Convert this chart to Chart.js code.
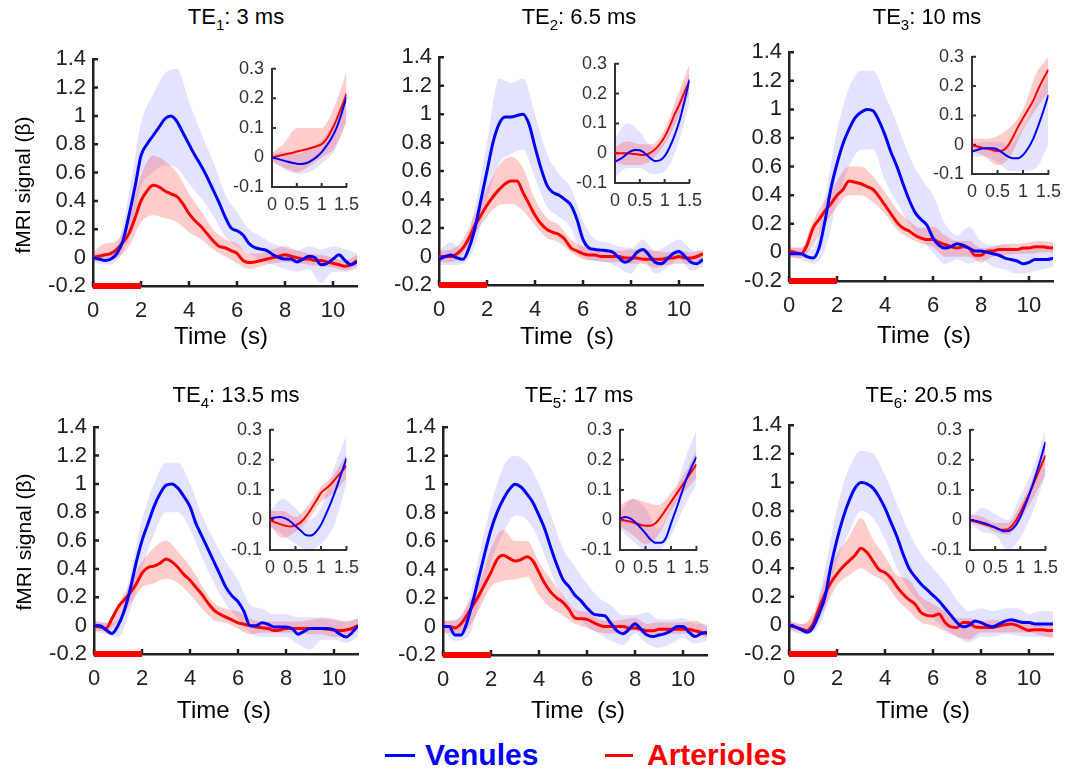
<!DOCTYPE html>
<html>
<head>
<meta charset="utf-8">
<script src="https://cdn.jsdelivr.net/npm/chart.js@4.4.1/dist/chart.umd.min.js"></script>
<style>
body { margin: 0; background: #fff; width: 1068px; height: 771px; position: relative; overflow: hidden; font-family: "Liberation Sans", Arial, sans-serif; }
canvas { position: absolute; }
.lbl { position: absolute; white-space: pre; color: #000; line-height: 1; }
</style>
</head>
<body>
<script>
// time bases
const tMain = [0,0.25,0.5,0.75,1,1.25,1.5,1.75,2,2.25,2.5,2.75,3,3.25,3.5,3.75,4,4.25,4.5,4.75,5,5.25,5.5,5.75,6,6.25,6.5,6.75,7,7.25,7.5,7.75,8,8.25,8.5,8.75,9,9.25,9.5,9.75,10,10.25,10.5,10.75,11];
const tBand = [0,0.5,1,1.5,2,2.5,3,3.5,4,4.5,5,5.5,6,6.5,7,7.5,8,8.5,9,9.5,10,10.5,11];
const tInset = [0,0.1,0.2,0.3,0.4,0.5,0.6,0.7,0.8,0.9,1,1.1,1.2,1.3,1.4,1.5];
const tInsetBand = [0,0.25,0.5,0.75,1,1.25,1.5];
const stimTimes = [0, 2];

// tick labels
const mainXTicks = [0,2,4,6,8,10];
const mainYTicks = [-0.2,0,0.2,0.4,0.6,0.8,1,1.2,1.4];
const insetXTicks = [0,0.5,1,1.5];
const insetYTicks = [-0.1,0,0.1,0.2,0.3];

// titles
const teIndex = ['1','2','3','4','5','6'];
const teValues = ['3 ms','6.5 ms','10 ms','13.5 ms','17 ms','20.5 ms'];
const seriesNames = ['Venules', 'Arterioles'];

// ---- TE1 ----
const ven1 = [0,-0.01,-0.02,-0.01, 0.03,0.12,0.3,0.5, 0.72,0.8,0.86,0.92, 0.98,1.0,0.96,0.88, 0.8,0.72,0.65,0.57, 0.48,0.39,0.29,0.21, 0.19,0.16,0.1,0.07, 0.06,0.05,0.02,0.0, -0.01,-0.01,-0.03,-0.01, 0.01,0.0,-0.05,-0.04, -0.01,0.02,-0.02,-0.05, -0.03];
const art1 = [0,0.01,0.02,0.03, 0.06,0.11,0.17,0.28, 0.4,0.47,0.51,0.5, 0.47,0.45,0.43,0.38, 0.31,0.26,0.22,0.17, 0.12,0.08,0.07,0.05, 0.03,-0.02,-0.035,-0.03, -0.02,-0.01,0.0,0.01, 0.02,0.01,0.0,-0.01, -0.01,-0.02,-0.02,-0.03, -0.04,-0.05,-0.06,-0.05, -0.02];
const ven1Lo = [-0.03,-0.05,-0.02,0.15,0.5,0.6,0.65,0.63,0.52,0.42,0.3,0.15,0.08,0.03,-0.02,-0.05,-0.08,-0.1,-0.08,-0.18,-0.1,-0.1,-0.08];
const ven1Hi = [0.03,0.02,0.08,0.45,0.95,1.15,1.3,1.33,1.1,0.88,0.68,0.45,0.32,0.2,0.15,0.1,0.07,0.05,0.08,0.06,0.08,0.06,0.03];
const art1Lo = [-0.03,-0.02,0.0,0.08,0.25,0.3,0.28,0.25,0.18,0.13,0.06,0.01,-0.04,-0.08,-0.06,-0.04,-0.03,-0.04,-0.05,-0.06,-0.07,-0.09,-0.06];
const art1Hi = [0.04,0.1,0.12,0.3,0.58,0.72,0.68,0.6,0.45,0.33,0.2,0.13,0.1,0.03,0.03,0.06,0.08,0.05,0.03,0.02,0.0,-0.02,0.02];
const venIn1 = [0,-0.004,-0.009,-0.014,-0.018,-0.021,-0.022,-0.019,-0.01,0.002,0.018,0.04,0.066,0.1,0.148,0.205];
const artIn1 = [0,0.004,0.008,0.012,0.015,0.02,0.024,0.028,0.033,0.038,0.045,0.063,0.092,0.128,0.17,0.215];
const venIn1Lo = [-0.01,-0.04,-0.055,-0.05,-0.02,0.02,0.12];
const venIn1Hi = [0.01,0.02,0.01,0.03,0.06,0.12,0.22];
const artIn1Lo = [-0.015,-0.035,-0.05,-0.03,0.0,0.03,0.12];
const artIn1Hi = [0.015,0.05,0.1,0.1,0.1,0.17,0.29];

// ---- TE2 ----
const ven2 = [-0.02,0.0,0.01,-0.01, -0.02,0.06,0.2,0.4, 0.6,0.8,0.93,0.98, 0.98,0.99,1.0,0.93, 0.77,0.62,0.5,0.45, 0.43,0.4,0.36,0.26, 0.12,0.06,0.05,0.045, 0.04,0.03,-0.01,-0.04, -0.02,0.03,0.05,0.01, -0.04,-0.05,-0.02,0.02, 0.035,0.0,-0.04,-0.05, -0.02];
const art2 = [0,0.0,0.0,0.02, 0.06,0.13,0.22,0.29, 0.36,0.42,0.47,0.51, 0.53,0.53,0.45,0.37, 0.29,0.23,0.19,0.17, 0.155,0.12,0.06,0.04, 0.02,0.01,0.01,0.0, 0.0,0.0,0.0,-0.01, -0.01,-0.01,-0.02,-0.02, -0.02,-0.02,-0.01,-0.01, 0.0,-0.01,-0.01,0.0, 0.02];
const ven2Lo = [-0.06,-0.06,-0.05,0.08,0.4,0.65,0.72,0.75,0.55,0.35,0.28,0.2,0.0,-0.03,-0.04,-0.08,-0.12,-0.02,-0.12,-0.08,-0.02,-0.1,-0.07];
const ven2Hi = [0.04,0.1,0.04,0.35,0.8,1.25,1.22,1.25,1.0,0.72,0.58,0.48,0.25,0.12,0.1,0.07,0.06,0.12,0.04,0.08,0.12,0.05,0.03];
const art2Lo = [-0.04,-0.04,0.02,0.16,0.28,0.36,0.37,0.32,0.22,0.13,0.1,0.03,-0.02,-0.03,-0.04,-0.04,-0.05,-0.05,-0.08,-0.06,-0.05,-0.05,-0.02];
const art2Hi = [0.04,0.05,0.12,0.3,0.48,0.64,0.7,0.62,0.4,0.27,0.22,0.12,0.07,0.05,0.04,0.04,0.05,0.05,0.04,0.03,0.04,0.03,0.05];
const venIn2 = [-0.028,-0.02,-0.008,0.005,0.011,0.01,0.0,-0.015,-0.026,-0.024,-0.01,0.02,0.06,0.11,0.175,0.247];
const artIn2 = [0,0,0,-0.001,-0.003,-0.005,-0.006,0.0,0.012,0.03,0.055,0.09,0.13,0.165,0.205,0.242];
const venIn2Lo = [-0.08,-0.05,-0.05,-0.07,-0.06,0.02,0.17];
const venIn2Hi = [0.05,0.1,0.07,0.02,0.04,0.16,0.27];
const artIn2Lo = [-0.03,-0.04,-0.04,-0.02,0.03,0.11,0.2];
const artIn2Hi = [0.02,0.04,0.03,0.03,0.08,0.19,0.3];

// ---- TE3 ----
const ven3 = [-0.01,-0.01,-0.01,-0.03, -0.04,0.03,0.22,0.45, 0.62,0.76,0.86,0.94, 0.98,1.0,0.99,0.92, 0.82,0.7,0.6,0.48, 0.37,0.28,0.23,0.19, 0.1,0.05,0.03,0.04, 0.06,0.05,0.03,0.01, 0.01,0.0,-0.01,-0.02, -0.04,-0.05,-0.06,-0.08, -0.07,-0.05,-0.05,-0.05, -0.04];
const art3 = [0.01,0.0,-0.01,0.05, 0.17,0.23,0.29,0.34, 0.4,0.44,0.5,0.49, 0.48,0.46,0.44,0.39, 0.33,0.27,0.21,0.17, 0.15,0.12,0.1,0.09, 0.09,0.07,0.055,0.04, 0.03,0.04,0.03,-0.02, -0.02,0.01,0.01,0.02, 0.02,0.02,0.02,0.03, 0.03,0.04,0.04,0.035, 0.03];
const ven3Lo = [-0.03,-0.05,-0.08,0.02,0.35,0.6,0.72,0.72,0.5,0.35,0.2,0.1,0.0,-0.08,-0.05,-0.08,-0.05,-0.1,-0.12,-0.15,-0.14,-0.12,-0.1];
const ven3Hi = [0.04,0.04,0.02,0.38,0.85,1.15,1.27,1.27,1.1,0.9,0.68,0.52,0.4,0.2,0.12,0.18,0.08,0.05,0.05,0.02,0.02,0.04,0.02];
const art3Lo = [-0.03,-0.04,0.05,0.2,0.32,0.4,0.4,0.35,0.27,0.16,0.1,0.06,0.04,-0.03,-0.03,-0.03,-0.07,-0.03,-0.02,-0.01,-0.01,0.0,0.0];
const art3Hi = [0.03,0.03,0.22,0.37,0.5,0.6,0.6,0.53,0.42,0.3,0.22,0.17,0.18,0.12,0.08,0.08,0.03,0.04,0.06,0.06,0.07,0.08,0.07];
const venIn3 = [-0.023,-0.018,-0.013,-0.012,-0.012,-0.016,-0.028,-0.04,-0.046,-0.046,-0.035,-0.012,0.02,0.065,0.115,0.17];
const artIn3 = [-0.003,-0.006,-0.01,-0.014,-0.018,-0.022,-0.02,-0.005,0.025,0.06,0.09,0.12,0.15,0.19,0.225,0.257];
const venIn3Lo = [-0.04,-0.04,-0.06,-0.09,-0.09,-0.08,0.0];
const venIn3Hi = [0.0,0.01,0.01,0.0,0.06,0.15,0.25];
const artIn3Lo = [-0.02,-0.04,-0.07,-0.04,0.05,0.12,0.18];
const artIn3Hi = [0.02,0.02,0.03,0.06,0.12,0.24,0.3];

// ---- TE4 ----
const ven4 = [0.0,0.0,-0.03,-0.055, 0.0,0.1,0.25,0.44, 0.6,0.72,0.84,0.93, 0.99,1.0,0.97,0.91, 0.84,0.72,0.63,0.54, 0.45,0.36,0.27,0.21, 0.17,0.1,0.0,0.0, 0.02,0.01,-0.01,-0.01, -0.01,-0.02,-0.06,-0.04, -0.02,-0.02,-0.02,-0.02, -0.03,-0.06,-0.08,-0.05, 0.0];
const art4 = [0.0,-0.01,-0.02,0.05, 0.13,0.18,0.23,0.29, 0.37,0.41,0.42,0.44, 0.47,0.45,0.41,0.36, 0.32,0.27,0.22,0.16, 0.11,0.08,0.06,0.04, 0.02,0.01,0.0,-0.01, -0.015,-0.02,-0.035,-0.03, -0.02,-0.02,-0.02,-0.02, -0.02,-0.02,-0.02,-0.025, -0.03,-0.035,-0.03,-0.02, 0.0];
const ven4Lo = [-0.04,-0.06,-0.08,0.1,0.4,0.65,0.8,0.8,0.68,0.48,0.3,0.15,0.05,-0.05,-0.08,-0.08,-0.08,-0.13,-0.17,-0.1,-0.1,-0.12,-0.08];
const ven4Hi = [0.04,0.02,0.04,0.35,0.75,1.0,1.15,1.15,1.0,0.78,0.6,0.45,0.32,0.15,0.12,0.08,0.08,0.06,0.06,0.06,0.05,0.03,0.05];
const art4Lo = [-0.04,-0.04,0.03,0.15,0.27,0.3,0.33,0.3,0.22,0.12,0.04,0.02,-0.02,-0.06,-0.05,-0.05,-0.05,-0.05,-0.06,-0.06,-0.08,-0.07,-0.03];
const art4Hi = [0.03,0.02,0.15,0.3,0.45,0.55,0.6,0.52,0.42,0.28,0.16,0.12,0.1,0.05,0.03,0.03,0.03,0.03,0.04,0.05,0.04,0.03,0.05];
const venIn4 = [0.005,0.008,0.01,0.005,-0.005,-0.02,-0.035,-0.05,-0.052,-0.04,-0.016,0.02,0.06,0.105,0.155,0.205];
const artIn4 = [0,-0.008,-0.014,-0.019,-0.022,-0.018,-0.008,0.01,0.035,0.062,0.09,0.105,0.12,0.14,0.16,0.18];
const venIn4Lo = [-0.02,-0.05,-0.08,-0.1,-0.08,-0.02,0.12];
const venIn4Hi = [0.03,0.07,0.04,0.0,0.04,0.17,0.28];
const artIn4Lo = [-0.02,-0.06,-0.04,0.0,0.06,0.09,0.14];
const artIn4Hi = [0.03,0.03,0.01,0.05,0.11,0.15,0.22];

// ---- TE5 ----
const ven5 = [0.0,0.0,-0.06,-0.06, 0.03,0.18,0.35,0.52, 0.68,0.8,0.89,0.96, 1.0,0.98,0.93,0.87, 0.78,0.68,0.55,0.43, 0.33,0.28,0.22,0.18, 0.13,0.09,0.08,0.075, 0.02,-0.03,-0.05,-0.02, 0.02,-0.02,-0.06,-0.07, -0.06,-0.05,-0.03,0.0, 0.0,-0.04,-0.07,-0.05, -0.04];
const art5 = [0,0,-0.01,0.02, 0.08,0.15,0.22,0.3, 0.38,0.47,0.5,0.48, 0.46,0.47,0.49,0.46, 0.38,0.3,0.24,0.2, 0.17,0.12,0.06,0.055, 0.05,0.03,0.01,0.0, 0.0,0.0,0.0,-0.01, -0.01,-0.02,-0.03,-0.03, -0.02,-0.02,-0.02,-0.02, -0.02,-0.02,-0.03,-0.04, -0.05];
const ven5Lo = [-0.03,-0.1,-0.08,0.15,0.45,0.65,0.78,0.75,0.6,0.38,0.2,0.1,0.0,-0.05,-0.1,-0.13,-0.05,-0.12,-0.15,-0.12,-0.08,-0.12,-0.1];
const ven5Hi = [0.04,0.05,0.15,0.5,0.85,1.12,1.2,1.15,1.0,0.78,0.55,0.42,0.3,0.2,0.15,0.08,0.08,0.1,0.05,0.05,0.06,0.02,0.02];
const art5Lo = [-0.04,-0.05,-0.02,0.12,0.28,0.32,0.33,0.35,0.22,0.13,0.08,0.02,-0.01,-0.04,-0.05,-0.04,-0.03,-0.06,-0.05,-0.05,-0.05,-0.05,-0.08];
const art5Hi = [0.04,0.04,0.15,0.3,0.55,0.68,0.6,0.6,0.45,0.33,0.22,0.12,0.1,0.05,0.04,0.05,0.06,0.02,0.03,0.03,0.03,0.04,0.0];
const venIn5 = [0.005,0.01,0.005,-0.008,-0.025,-0.045,-0.065,-0.076,-0.076,-0.06,-0.012,0.035,0.085,0.135,0.175,0.21];
const artIn5 = [0,-0.002,-0.005,-0.011,-0.016,-0.019,-0.019,-0.01,0.01,0.035,0.06,0.085,0.11,0.135,0.16,0.185];
const venIn5Lo = [-0.03,-0.07,-0.1,-0.1,-0.05,0.04,0.12];
const venIn5Hi = [0.03,0.07,0.04,-0.03,0.05,0.19,0.3];
const artIn5Lo = [-0.02,-0.05,-0.08,-0.05,0.03,0.09,0.14];
const artIn5Hi = [0.05,0.07,0.06,0.05,0.09,0.15,0.23];

// ---- TE6 ----
const ven6 = [0.0,-0.01,-0.03,-0.048, -0.014,0.08,0.2,0.42, 0.6,0.75,0.87,0.96, 1.0,0.99,0.96,0.9, 0.82,0.72,0.62,0.5, 0.4,0.34,0.29,0.25, 0.21,0.17,0.12,0.07, 0.02,-0.01,0.0,0.03, 0.02,0.0,-0.01,0.01, 0.03,0.04,0.03,0.02, 0.02,0.01,0.01,0.01, 0.01];
const art6 = [0.0,-0.01,-0.025,-0.036, 0.01,0.12,0.22,0.3, 0.36,0.41,0.45,0.49, 0.54,0.51,0.45,0.39, 0.37,0.33,0.27,0.22, 0.18,0.15,0.09,0.07, 0.066,0.08,0.02,-0.01, -0.014,0.02,0.02,-0.01, -0.014,-0.015,-0.014,-0.005, 0.005,0.01,0.0,-0.02, -0.035,-0.03,-0.03,-0.035, -0.036];
const ven6Lo = [-0.03,-0.06,-0.05,0.1,0.45,0.65,0.8,0.75,0.6,0.4,0.25,0.15,0.05,-0.02,-0.08,-0.12,-0.08,-0.08,-0.06,-0.07,-0.08,-0.08,-0.08];
const ven6Hi = [0.03,0.01,0.05,0.4,0.82,1.1,1.22,1.2,1.05,0.85,0.65,0.5,0.4,0.3,0.18,0.1,0.12,0.1,0.12,0.12,0.08,0.1,0.1];
const art6Lo = [-0.03,-0.04,-0.02,0.12,0.28,0.35,0.4,0.35,0.3,0.18,0.1,0.02,0.0,-0.04,-0.08,-0.1,-0.05,-0.05,-0.05,-0.05,-0.05,-0.07,-0.09];
const art6Hi = [0.03,0.01,0.08,0.32,0.5,0.62,0.75,0.6,0.48,0.35,0.32,0.2,0.15,0.1,0.05,0.05,0.03,0.04,0.03,0.04,0.03,0.01,0.01];
const venIn6 = [0,-0.003,-0.007,-0.012,-0.018,-0.025,-0.033,-0.038,-0.035,-0.02,0.01,0.05,0.095,0.145,0.2,0.26];
const artIn6 = [0,-0.005,-0.01,-0.015,-0.02,-0.026,-0.032,-0.033,-0.025,-0.005,0.025,0.06,0.095,0.135,0.175,0.215];
const venIn6Lo = [-0.01,-0.04,-0.05,-0.1,-0.06,0.03,0.15];
const venIn6Hi = [0.01,0.04,0.02,0.0,0.08,0.17,0.3];
const artIn6Lo = [-0.01,-0.02,-0.04,-0.05,0.0,0.07,0.15];
const artIn6Hi = [0.02,0.01,-0.01,-0.01,0.05,0.14,0.26];

const mainSets = [
  [ven1, art1, ven1Lo, ven1Hi, art1Lo, art1Hi],
  [ven2, art2, ven2Lo, ven2Hi, art2Lo, art2Hi],
  [ven3, art3, ven3Lo, ven3Hi, art3Lo, art3Hi],
  [ven4, art4, ven4Lo, ven4Hi, art4Lo, art4Hi],
  [ven5, art5, ven5Lo, ven5Hi, art5Lo, art5Hi],
  [ven6, art6, ven6Lo, ven6Hi, art6Lo, art6Hi]
];
const insetSets = [
  [venIn1, artIn1, venIn1Lo, venIn1Hi, artIn1Lo, artIn1Hi],
  [venIn2, artIn2, venIn2Lo, venIn2Hi, artIn2Lo, artIn2Hi],
  [venIn3, artIn3, venIn3Lo, venIn3Hi, artIn3Lo, artIn3Hi],
  [venIn4, artIn4, venIn4Lo, venIn4Hi, artIn4Lo, artIn4Hi],
  [venIn5, artIn5, venIn5Lo, venIn5Hi, artIn5Lo, artIn5Hi],
  [venIn6, artIn6, venIn6Lo, venIn6Hi, artIn6Lo, artIn6Hi]
];

// layout: plot areas [left, top, right, bottom] in page pixels
const mainBoxes = [[93,54,357,286],[439,52,703,285],[789,47,1053,281],[94,422,358,654],[443,422,707,655],[789,420,1053,654]];
const insetBoxes = [[272,62,350,187],[615,57,693,183],[972,50,1052,174],[270,423,350,550],[620,423,700,550],[970,423,1049,550]];
const titlePos = [[236,25],[579,25],[927,25],[236,403],[579,403],[929,403]];
const xTitlePos = [[221,344],[567,344],[924,343],[224,718],[578,718],[923,718]];

const BLUE = '#0000ff';
const RED = '#ff0000';
const BLUE_BAND = 'rgba(0,0,255,0.11)';
const RED_BAND = 'rgba(255,0,0,0.2)';
const FONT = '"Liberation Sans", Arial, sans-serif';
Chart.defaults.font.family = FONT;

// MATLAB-like ticks pointing into the plot
const inwardTicks = {
  id: 'inwardTicks',
  beforeDatasetsDraw(chart, args, o) {
    const { ctx, chartArea: a, scales: { x, y } } = chart;
    ctx.save();
    ctx.strokeStyle = o.color;
    ctx.lineWidth = o.width;
    ctx.beginPath();
    x.ticks.forEach(t => {
      const px = x.getPixelForValue(t.value);
      ctx.moveTo(px, a.bottom);
      ctx.lineTo(px, a.bottom - o.len);
    });
    y.ticks.forEach(t => {
      const py = y.getPixelForValue(t.value);
      ctx.moveTo(a.left, py);
      ctx.lineTo(a.left + o.len, py);
    });
    ctx.stroke();
    ctx.restore();
  }
};

function pts(xs, ys) {
  return xs.map((x, i) => ({ x: x, y: ys[i] }));
}

function lineDs(xs, ys, color, w) {
  return { data: pts(xs, ys), borderColor: color, borderWidth: w, pointRadius: 0, fill: false, cubicInterpolationMode: 'monotone' };
}

function bandDs(xs, lo, hi, color) {
  return [
    { data: pts(xs, hi), borderColor: 'rgba(0,0,0,0)', borderWidth: 0, pointRadius: 0, backgroundColor: color, fill: '+1', cubicInterpolationMode: 'monotone' },
    { data: pts(xs, lo), borderColor: 'rgba(0,0,0,0)', borderWidth: 0, pointRadius: 0, fill: false, cubicInterpolationMode: 'monotone' }
  ];
}

function makeChart(box, pad, datasets, ax) {
  const c = document.createElement('canvas');
  const w = box[2] - box[0] + pad.l + pad.r;
  const h = box[3] - box[1] + pad.t + pad.b;
  c.width = w;
  c.height = h;
  c.style.left = (box[0] - pad.l) + 'px';
  c.style.top = (box[1] - pad.t) + 'px';
  c.style.width = w + 'px';
  c.style.height = h + 'px';
  document.body.appendChild(c);

  const tickFont = { size: ax.fontSize, family: FONT };
  return new Chart(c, {
    type: 'line',
    data: { datasets: datasets },
    options: {
      responsive: false,
      animation: false,
      devicePixelRatio: 1,
      events: [],
      layout: { padding: { left: 0, top: pad.t, right: pad.r, bottom: 0 } },
      plugins: {
        legend: { display: false },
        tooltip: { enabled: false },
        inwardTicks: { color: ax.color, width: ax.lineWidth, len: ax.tickLen }
      },
      scales: {
        x: {
          type: 'linear', min: ax.xMin, max: ax.xMax,
          afterBuildTicks: s => { s.ticks = ax.xTicks.map(v => ({ value: v })); },
          afterFit: s => { s.height = pad.b; },
          grid: { display: false, drawTicks: false },
          border: { display: true, color: ax.color, width: ax.lineWidth },
          ticks: { font: tickFont, color: ax.color, padding: ax.xPad, maxRotation: 0, autoSkip: false, callback: v => String(v) }
        },
        y: {
          type: 'linear', min: ax.yMin, max: ax.yMax,
          afterBuildTicks: s => { s.ticks = ax.yTicks.map(v => ({ value: v })); },
          afterFit: s => { s.width = pad.l; },
          grid: { display: false, drawTicks: false },
          border: { display: true, color: ax.color, width: ax.lineWidth },
          ticks: { font: tickFont, color: ax.color, padding: ax.yPad, autoSkip: false, callback: v => String(v) }
        }
      }
    },
    plugins: [inwardTicks]
  });
}

const mainAxis = { xMin: 0, xMax: 11, yMin: -0.2, yMax: 1.4, xTicks: mainXTicks, yTicks: mainYTicks, fontSize: 22, color: '#222', lineWidth: 2.5, tickLen: 5, xPad: 12, yPad: 7 };
const insetAxis = { xMin: 0, xMax: 1.5, yMin: -0.1, yMax: 0.3, xTicks: insetXTicks, yTicks: insetYTicks, fontSize: 18, color: '#333', lineWidth: 2, tickLen: 4, xPad: 7, yPad: 8 };

mainSets.forEach((s, i) => {
  const ds = [
    { data: pts(stimTimes, [-0.2, -0.2]), borderColor: RED, borderWidth: 6, pointRadius: 0, fill: false, clip: false, borderCapStyle: 'butt' },
    lineDs(tMain, s[0], BLUE, 3),
    lineDs(tMain, s[1], RED, 3),
    ...bandDs(tBand, s[4], s[5], RED_BAND),
    ...bandDs(tBand, s[2], s[3], BLUE_BAND)
  ];
  makeChart(mainBoxes[i], { l: 80, t: 15, r: 12, b: 45 }, ds, mainAxis);
});

insetSets.forEach((s, i) => {
  const ds = [
    lineDs(tInset, s[0], BLUE, 2),
    lineDs(tInset, s[1], RED, 2),
    ...bandDs(tInsetBand, s[4], s[5], RED_BAND),
    ...bandDs(tInsetBand, s[2], s[3], BLUE_BAND)
  ];
  makeChart(insetBoxes[i], { l: 45, t: 12, r: 16, b: 32 }, ds, insetAxis);
});

// text placed by baseline (Arial metrics, line-height 1)
function addText(html, x, base, size, opt) {
  opt = opt || {};
  const d = document.createElement('div');
  d.className = 'lbl';
  d.innerHTML = html;
  d.style.fontSize = size + 'px';
  d.style.left = x + 'px';
  d.style.top = (base - 0.8465 * size) + 'px';
  if (opt.bold) d.style.fontWeight = 'bold';
  if (opt.color) d.style.color = opt.color;
  if (!opt.left) d.style.transform = 'translateX(-50%)';
  document.body.appendChild(d);
  return d;
}

titlePos.forEach((p, i) => {
  addText('TE<span style="font-size:15px;position:relative;top:6px">' + teIndex[i] + '</span>: ' + teValues[i], p[0], p[1], 22);
});
xTitlePos.forEach(p => addText('Time  (s)', p[0], p[1], 24));

[[22, 185], [23, 542]].forEach(p => {
  const d = document.createElement('div');
  d.className = 'lbl';
  d.textContent = 'fMRI signal (\u03b2)';
  d.style.fontSize = '21px';
  d.style.left = p[0] + 'px';
  d.style.top = p[1] + 'px';
  d.style.transform = 'translate(-50%,-50%) rotate(-90deg)';
  document.body.appendChild(d);
});

// legend
function legendLine(x1, x2, y, color) {
  const d = document.createElement('div');
  d.style.position = 'absolute';
  d.style.left = x1 + 'px';
  d.style.top = (y - 1.5) + 'px';
  d.style.width = (x2 - x1) + 'px';
  d.style.height = '3px';
  d.style.background = color;
  document.body.appendChild(d);
}
legendLine(385, 415, 755, BLUE);
addText(seriesNames[0], 425, 765, 30, { bold: true, color: BLUE, left: true });
legendLine(605, 633, 755, RED);
addText(seriesNames[1], 647, 765, 30, { bold: true, color: RED, left: true });
</script>
</body>
</html>
